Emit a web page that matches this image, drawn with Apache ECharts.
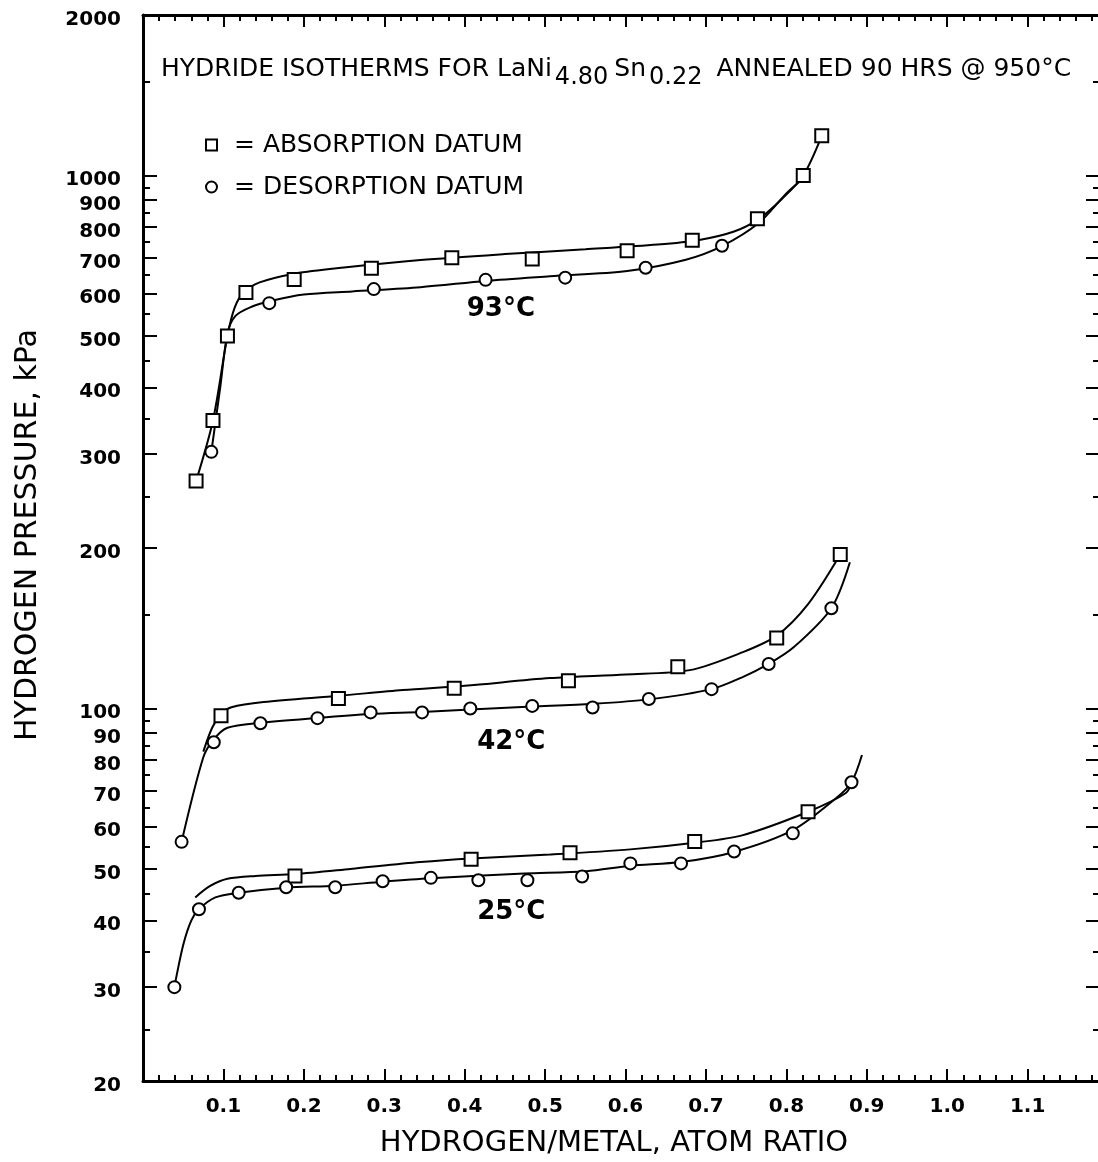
<!DOCTYPE html>
<html>
<head>
<meta charset="utf-8">
<script src="https://cdn.jsdelivr.net/npm/echarts@6/dist/echarts.min.js"></script>
<style>
html,body{margin:0;padding:0;background:#fff;}
#chart{width:1098px;height:1162px;}
</style>
</head>
<body>
<div id="chart"></div>
<script>
// ---------------- DATA ----------------
// x = hydrogen/metal atom ratio, y = hydrogen pressure (kPa)
const abs93 = [[0.066,267],[0.087,347],[0.105,500],[0.128,603],[0.188,638],[0.284,670],[0.384,701],[0.484,697],[0.602,722],[0.683,756],[0.764,829],[0.821,1000],[0.844,1187]];
const des93 = [[0.085,303],[0.157,576],[0.287,612],[0.426,637],[0.525,643],[0.625,671],[0.720,738]];
const abs42 = [[0.097,96.9],[0.243,104.4],[0.387,109.1],[0.529,112.7],[0.665,119.8],[0.788,135.6],[0.867,194.5]];
const des42 = [[0.048,56.2],[0.088,86.4],[0.146,93.8],[0.217,95.9],[0.283,98.3],[0.347,98.3],[0.407,100],[0.484,101.1],[0.559,100.4],[0.629,104.2],[0.707,108.7],[0.778,121.2],[0.856,154.2]];
const abs25 = [[0.189,48.5],[0.408,52.1],[0.531,53.6],[0.686,56.3],[0.827,64.0]];
const des25 = [[0.039,30],[0.0696,42],[0.119,45.1],[0.178,46.2],[0.239,46.2],[0.298,47.4],[0.358,48.1],[0.417,47.6],[0.478,47.6],[0.546,48.4],[0.606,51.2],[0.669,51.2],[0.735,53.9],[0.808,58.3],[0.881,72.7]];

// fitted isotherm curves as drawn in the figure
const abs93Curve = [[0.066,267],[0.087,347],[0.105,500],[0.114,565],[0.125,603],[0.145,630],[0.19,655],[0.25,672],[0.345,694],[0.45,712],[0.55,727],[0.64,742],[0.69,756],[0.735,785],[0.766,829],[0.795,905],[0.821,1000],[0.844,1187]];
const des93Curve = [[0.085,303],[0.096,400],[0.105,505],[0.115,545],[0.135,567],[0.16,582],[0.2,598],[0.26,606],[0.345,617],[0.426,634],[0.506,647],[0.602,662],[0.675,695],[0.72,737],[0.766,815],[0.80,925],[0.818,978]];
const abs42Curve = [[0.075,83],[0.086,92],[0.097,97.5],[0.11,100.5],[0.15,102.8],[0.243,105.6],[0.323,108.3],[0.40,110.3],[0.506,114],[0.6,115.8],[0.68,118],[0.745,127.4],[0.788,137],[0.827,157],[0.867,194.5]];
const des42Curve = [[0.048,56.2],[0.075,81],[0.088,87.5],[0.105,92],[0.146,94],[0.217,96],[0.283,97.6],[0.347,98.5],[0.407,99.6],[0.484,100.8],[0.559,102],[0.629,104],[0.707,108.7],[0.745,114.4],[0.778,121.2],[0.809,130.2],[0.856,154.2],[0.879,188]];
const abs25Curve = [[0.065,44.2],[0.083,46.4],[0.105,47.9],[0.14,48.5],[0.189,48.9],[0.258,50],[0.345,51.5],[0.408,52.3],[0.506,53.2],[0.606,54.4],[0.686,56],[0.745,57.8],[0.827,64],[0.874,69.4],[0.881,72.7]];
const des25Curve = [[0.039,30],[0.05,36],[0.06,40],[0.0696,42],[0.09,44.2],[0.119,45.1],[0.178,46.1],[0.239,46.5],[0.298,47.3],[0.358,48],[0.474,49],[0.551,49.5],[0.606,50.7],[0.669,51.5],[0.735,53.8],[0.808,59.1],[0.862,67.9],[0.881,72.7],[0.894,81.8]];

const tempLabels = [[0.445,561,'93°C'],[0.458,86.3,'42°C'],[0.458,41.4,'25°C']];

const yLabelValues = [20,30,40,50,60,70,80,90,100,200,300,400,500,600,700,800,900,1000,2000];
const yMinorValues = [25,35,45,55,65,75,85,95,150,250,350,450,550,650,750,850,950,1500];
const xRange = [0, 1.19];
const yRange = [20, 2000];

// ---------------- CHART ----------------
const FONT = '"DejaVu Sans", sans-serif';
const BLACK = '#000';
const LMIN = Math.log10(yRange[0]), LMAX = Math.log10(yRange[1]);
const yMajorL = yLabelValues.map(v => Math.log10(v));
const yMinorL = yMinorValues.map(v => Math.log10(v));

function curve(name, data) {
  return {type:'line', name:name, data:data, xAxisIndex:0, yAxisIndex:0,
    smooth:0.3, symbol:'none', showSymbol:false, silent:true,
    lineStyle:{color:BLACK, width:2, opacity:1}, z:2};
}
function pts(name, data, sym, size) {
  return {type:'scatter', name:name, data:data, xAxisIndex:0, yAxisIndex:0,
    symbol:sym, symbolSize:size,
    itemStyle:{color:'#fff', borderColor:BLACK, borderWidth:2, opacity:1}, z:3};
}
function yDeco(pos, values, len, withLabels, extra) {
  return Object.assign({
    type:'value', min:LMIN, max:LMAX, position:pos,
    axisLine:{show:false, onZero:false},
    axisTick:{show:true, inside:true, length:len, customValues:values, lineStyle:{color:BLACK, width:2}},
    axisLabel: withLabels ? {show:true, customValues:values, margin:22,
      formatter: v => String(Math.round(Math.pow(10, v))),
      fontFamily:FONT, fontSize:20, fontWeight:'bold', color:BLACK, verticalAlign:'top', lineHeight:9} : {show:false},
    splitLine:{show:false}
  }, extra || {});
}
function xAxisDef(pos, labels, extra) {
  return Object.assign({
    type:'value', position:pos, min:xRange[0], max:xRange[1], interval:0.1,
    axisLine:{show:true, onZero:false, lineStyle:{color:BLACK, width:3}},
    axisTick:{show:true, inside:true, length:12, lineStyle:{color:BLACK, width:2}},
    minorTick:{show:true, splitNumber:5, length:6, lineStyle:{color:BLACK, width:2}},
    axisLabel: labels ? {show:true, margin:16, fontFamily:FONT, fontSize:20, fontWeight:'bold', color:BLACK,
      formatter: v => (v < 0.05 || v > 1.15) ? '' : v.toFixed(1)} : {show:false},
    splitLine:{show:false}, minorSplitLine:{show:false}
  }, extra || {});
}

const chart = echarts.init(document.getElementById('chart'), null, {renderer:'canvas'});
chart.setOption({
  animation:false,
  backgroundColor:'#fff',
  title:{
    text:'{n|HYDRIDE ISOTHERMS FOR LaNi}{s|4.80}{n|Sn}{s|0.22}{n| ANNEALED 90 HRS @ 950°C}',
    left:156, top:43,
    textStyle:{fontWeight:'normal', rich:{
      n:{fontFamily:FONT, fontSize:25, fontWeight:'normal', color:BLACK},
      s:{fontFamily:FONT, fontSize:24, fontWeight:'normal', color:BLACK, padding:[18,6,0,3]}
    }}
  },
  legend:{
    data:['ABSORPTION DATUM','DESORPTION DATUM'],
    orient:'vertical', left:200, top:125, itemWidth:11, itemHeight:11, itemGap:12,
    formatter: name => '= ' + name,
    textStyle:{fontFamily:FONT, fontSize:25, color:BLACK, lineHeight:30, padding:[0,0,0,12]},
    selectedMode:false
  },
  grid:{left:143, top:15, width:957, height:1066, containLabel:false, outerBoundsMode:'none'},
  xAxis:[
    xAxisDef('bottom', true, {name:'HYDROGEN/METAL, ATOM RATIO', nameLocation:'middle', nameGap:48,
      nameTextStyle:{fontFamily:FONT, fontSize:29, color:BLACK, padding:[0,15,0,0]}}),
    xAxisDef('top', false)
  ],
  yAxis:[
    {type:'log', logBase:10, min:yRange[0], max:yRange[1], position:'left',
     axisLine:{show:true, onZero:false, lineStyle:{color:BLACK, width:3}},
     axisTick:{show:false}, axisLabel:{show:false}, splitLine:{show:false}, minorTick:{show:false}},
    yDeco('left', yMajorL, 14, true, {name:'HYDROGEN PRESSURE, kPa', nameLocation:'middle', nameRotate:90, nameGap:100,
      nameTextStyle:{fontFamily:FONT, fontSize:30, color:BLACK, padding:[0,0,0,26]}}),
    yDeco('left', yMinorL, 7, false),
    yDeco('right', yMajorL, 14, false, {axisLine:{show:true, onZero:false, lineStyle:{color:BLACK, width:3}}}),
    yDeco('right', yMinorL, 7, false)
  ],
  series:[
    curve('abs93c', abs93Curve), curve('des93c', des93Curve),
    curve('abs42c', abs42Curve), curve('des42c', des42Curve),
    curve('abs25c', abs25Curve), curve('des25c', des25Curve),
    pts('ABSORPTION DATUM', abs93, 'rect', 13),
    pts('DESORPTION DATUM', des93, 'circle', 12),
    pts('ABSORPTION DATUM', abs42, 'rect', 13),
    pts('DESORPTION DATUM', des42, 'circle', 12),
    pts('ABSORPTION DATUM', abs25, 'rect', 13),
    pts('DESORPTION DATUM', des25, 'circle', 12),
    {type:'scatter', name:'temps', data:tempLabels, xAxisIndex:0, yAxisIndex:0, symbolSize:0, silent:true, z:4,
     itemStyle:{opacity:1},
     label:{show:true, position:'inside', formatter: p => p.value[2], fontFamily:FONT, fontSize:26, fontWeight:'bold', color:BLACK, opacity:1}}
  ]
});
</script>
</body>
</html>
